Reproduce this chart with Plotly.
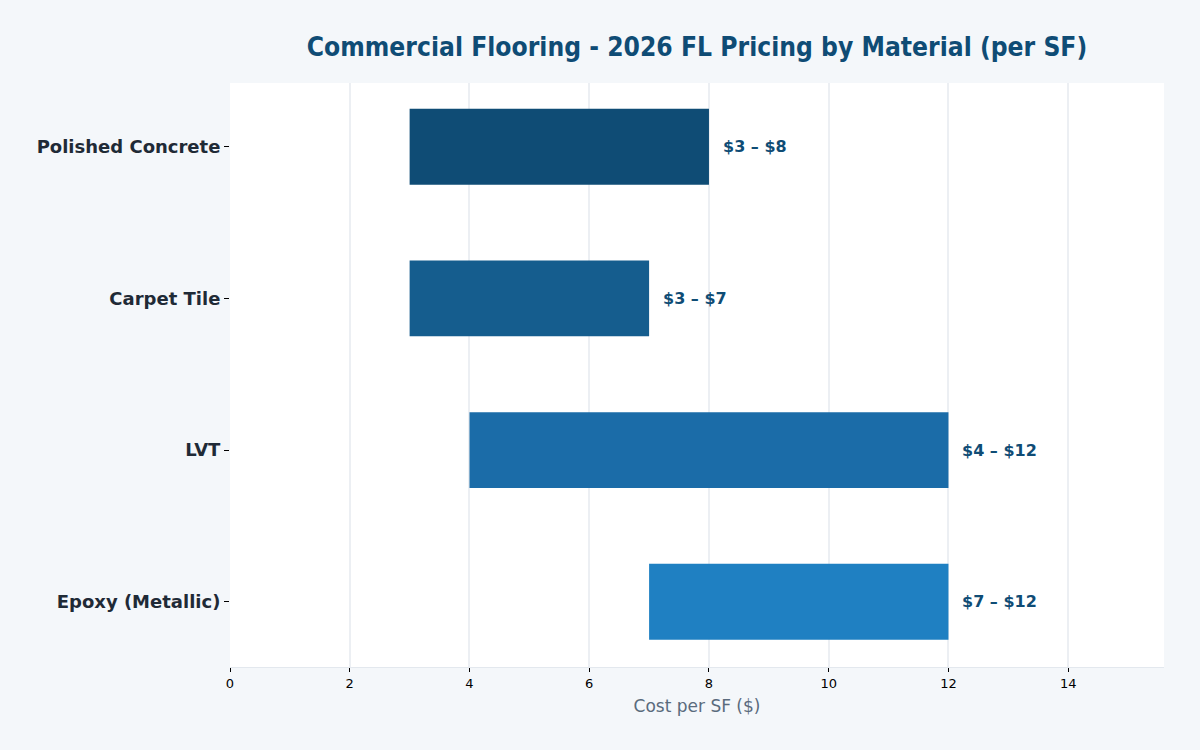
import plotly.graph_objects as go

materials = ["Epoxy (Metallic)", "LVT", "Carpet Tile", "Polished Concrete"]
low = [7, 4, 3, 3]
high = [12, 12, 7, 8]
colors = ["#1f80c2", "#1b6ca8", "#155d8e", "#0f4c75"]

labels = [f"${l} – ${h}" for l, h in zip(low, high)]

fig = go.Figure()
fig.add_trace(go.Bar(
    y=materials,
    x=[h - l for l, h in zip(low, high)],
    base=low,
    orientation="h",
    width=0.5,
    marker=dict(color=colors, line=dict(width=0)),
    hoverinfo="skip",
))

for m, h, t in zip(materials, high, labels):
    fig.add_annotation(
        x=h, y=m, xref="x", yref="y",
        text=f"<b>{t}</b>", showarrow=False,
        xanchor="left", xshift=12,
        font=dict(family="DejaVu Sans", size=16, color="#0f4c75"),
    )

fig.update_layout(
    width=1200, height=750,
    paper_bgcolor="#f4f7fa",
    plot_bgcolor="#ffffff",
    margin=dict(l=230, r=36, t=83, b=83),
    font=dict(family="DejaVu Sans"),
    title=dict(
        text="<b>Commercial Flooring - 2026 FL Pricing by Material (per SF)</b>",
        x=0.5, xref="paper", xanchor="center",
        y=1 - 47/750, yref="container", yanchor="middle",
        font=dict(size=26.2, color="#0f4c75", family="DejaVu Sans Condensed"),
    ),
    showlegend=False,
    xaxis=dict(
        range=[0, 15.6],
        dtick=2,
        showgrid=True, gridcolor="#eceff3", gridwidth=2,
        zeroline=False,
        showline=True, linecolor="#e3e8ee", linewidth=1,
        ticks="outside", ticklen=4, tickcolor="#000000",
        tickfont=dict(size=13, color="#000000"),
        title=dict(text="Cost per SF ($)", font=dict(size=17, color="#5a6b7d"), standoff=10),
    ),
    yaxis=dict(
        range=[-0.43, 3.42],
        showgrid=False, zeroline=False,
        ticks="outside", ticklen=5, tickcolor="#000000",
        tickfont=dict(size=18, color="#1f2a36", weight="bold"),
    ),
)

fig.write_html("out.html")
